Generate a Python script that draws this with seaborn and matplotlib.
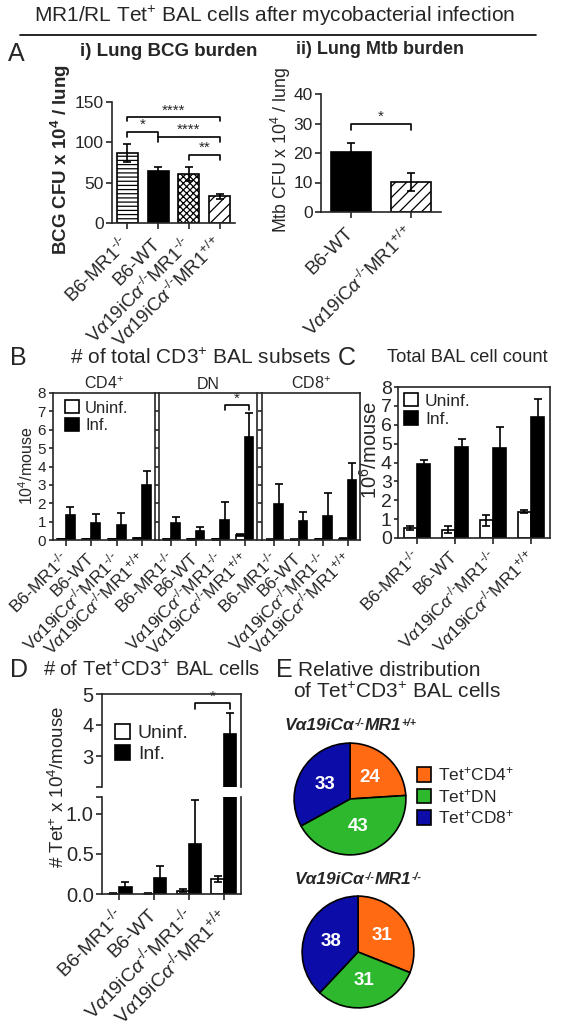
import matplotlib
matplotlib.use("Agg")
import matplotlib.pyplot as plt
import seaborn as sns
import pandas as pd
from matplotlib.patches import Patch
from matplotlib.lines import Line2D
from matplotlib.offsetbox import TextArea, HPacker, AnchoredOffsetbox

# ---- data -------------------------------------------------------------
groups = [r"B6-MR1$^{\text{-/-}}$", "B6-WT",
          r"V$\alpha$19iC$\alpha^{\text{-/-}}$MR1$^{\text{-/-}}$",
          r"V$\alpha$19iC$\alpha^{\text{-/-}}$MR1$^{\text{+/+}}$"]
conds = ["Uninf.", "Inf."]

# A i) lung BCG burden (x 10^4 CFU / lung)
bcg_mean = [87, 64, 61, 33]
bcg_sem = [11, 6, 9, 3.5]

# A ii) lung Mtb burden
mtb_groups = ["B6-WT", r"V$\alpha$19iC$\alpha^{\text{-/-}}$MR1$^{\text{+/+}}$"]
mtb_mean = [20.3, 10.2]
mtb_sem = [3.2, 3.1]

# B) total CD3+ BAL subsets (10^4 / mouse)
subsets = ["CD4$^{+}$", "DN", "CD8$^{+}$"]
cd4_uninf = [0.06, 0.04, 0.03, 0.10]
cd4_uninf_err = [0.01, 0.01, 0.01, 0.02]
cd4_inf = [1.35, 0.90, 0.80, 3.00]
cd4_inf_err = [0.45, 0.52, 0.68, 0.75]
dn_uninf = [0.03, 0.03, 0.03, 0.27]
dn_uninf_err = [0.01, 0.01, 0.01, 0.05]
dn_inf = [0.95, 0.50, 1.10, 5.60]
dn_inf_err = [0.30, 0.20, 0.95, 1.30]
cd8_uninf = [0.02, 0.02, 0.05, 0.08]
cd8_uninf_err = [0.01, 0.01, 0.02, 0.02]
cd8_inf = [1.95, 1.02, 1.33, 3.28]
cd8_inf_err = [1.10, 0.53, 1.25, 0.92]

# C) total BAL cell count (10^6 / mouse)
bal_uninf = [0.54, 0.45, 0.93, 1.40]
bal_uninf_err = [0.12, 0.18, 0.28, 0.10]
bal_inf = [3.90, 4.83, 4.77, 6.43]
bal_inf_err = [0.25, 0.40, 1.12, 0.95]

# D) Tet+CD3+ BAL cells (10^4 / mouse)
tet_uninf = [0.005, 0.005, 0.04, 0.19]
tet_uninf_err = [0.002, 0.002, 0.02, 0.04]
tet_inf = [0.09, 0.20, 0.62, 3.70]
tet_inf_err = [0.055, 0.15, 0.55, 0.70]

# E) relative distribution (%)
tet_subsets = ["Tet$^{+}$CD4$^{+}$", "Tet$^{+}$DN", "Tet$^{+}$CD8$^{+}$"]
pct_mr1_wt = [24, 43, 33]
pct_mr1_ko = [31, 31, 38]
pie_titles = [[("V\u03b119iC\u03b1", False), ("-/-", True), ("MR1", False), ("+/+", True)],
              [("V\u03b119iC\u03b1", False), ("-/-", True), ("MR1", False), ("-/-", True)]]

# ---- style ------------------------------------------------------------
sns.set_style("ticks")
plt.rcParams["font.family"] = ["Liberation Sans", "DejaVu Sans"]
plt.rcParams["mathtext.fontset"] = "custom"
plt.rcParams["mathtext.rm"] = "Liberation Sans"
plt.rcParams["mathtext.it"] = "Liberation Sans:italic"
plt.rcParams["mathtext.bf"] = "Liberation Sans:bold"
plt.rcParams["axes.linewidth"] = 1.2
plt.rcParams["hatch.linewidth"] = 0.9
plt.rcParams["xtick.major.width"] = 1.2
plt.rcParams["ytick.major.width"] = 1.2
plt.rcParams["xtick.major.size"] = 4
plt.rcParams["ytick.major.size"] = 4

cond_colors = {"Uninf.": "white", "Inf.": "black"}
bcg_hatch = ["----", "", "xxxxx", "///"]
pie_colors = ["#ff6a13", "#2db82d", "#0c0ca8"]

W, H = 564, 1030
fig = plt.figure(figsize=(W / 100, H / 100), dpi=100)


def box(x0, y0, x1, y1):
    # pixel box -> figure rect
    return [x0 / W, 1 - y1 / H, (x1 - x0) / W, (y1 - y0) / H]


def ftext(x, y, s, **kw):
    kw.setdefault("va", "center")
    fig.text(x / W, 1 - y / H, s, **kw)


def rotate_labels(ax, labels, fs=11, pad=8):
    ax.set_xticks(range(len(labels)))
    ax.set_xticklabels(labels, rotation=45, ha="right", va="center",
                       rotation_mode="anchor", fontsize=fs)
    ax.tick_params(axis="x", pad=pad)


def errbars(ax, container, errs, lw=1.2):
    for bar, e in zip(container, errs):
        ax.errorbar(bar.get_x() + bar.get_width() / 2, bar.get_height(), yerr=e,
                    color="black", capsize=3, elinewidth=lw, capthick=lw)


def bracket(ax, x1, x2, y, drop, text, fs=11):
    ax.plot([x1, x1, x2, x2], [y - drop, y, y, y - drop], color="black",
            lw=1.2, clip_on=False)
    ax.text((x1 + x2) / 2, y, text, ha="center", va="bottom", fontsize=fs)


def hue_bars(ax, uninf, inf, uninf_err, inf_err):
    df = pd.DataFrame({"group": groups * 2, "value": uninf + inf,
                       "cond": ["Uninf."] * 4 + ["Inf."] * 4})
    sns.barplot(data=df, x="group", y="value", hue="cond", hue_order=conds,
                palette=cond_colors, edgecolor="black", linewidth=1.2,
                width=0.7, errorbar=None, legend=False, ax=ax)
    for cont, errs in zip(ax.containers, [uninf_err, inf_err]):
        errbars(ax, cont, errs)
    ax.set_xlabel("")
    ax.set_ylabel("")


def cond_legend(ax, loc, fs=12):
    handles = [Patch(facecolor=cond_colors[c], edgecolor="black", lw=1.2) for c in conds]
    ax.legend(handles, conds, loc="upper left", bbox_to_anchor=loc, frameon=False,
              fontsize=fs, handlelength=0.8, handleheight=0.8, handletextpad=0.4,
              labelspacing=0.15, borderaxespad=0, borderpad=0)


def rich_title(x, y, parts, fs=12.5):
    # bold italic genotype with raised small superscripts
    areas = [TextArea(s, textprops=dict(fontsize=fs * 0.6 if sup else fs,
                                        fontweight="bold", fontstyle="italic"))
             for s, sup in parts]
    pack = HPacker(children=areas, align="top", pad=0, sep=0)
    anch = AnchoredOffsetbox(loc="center left", child=pack, frameon=False, pad=0,
                             borderpad=0, bbox_to_anchor=(x / W, 1 - y / H),
                             bbox_transform=fig.transFigure)
    fig.add_artist(anch)


# ---- header -----------------------------------------------------------
ftext(275, 16, "MR1/RL Tet$^{+}$ BAL cells after mycobacterial infection",
      ha="center", fontsize=15)
fig.add_artist(Line2D([20 / W, 536 / W], [1 - 35 / H] * 2, color="black", lw=1.2))

# ---- A i --------------------------------------------------------------
ftext(8, 54, "A", fontsize=18)
ftext(169, 52, "i) Lung BCG burden", ha="center", fontsize=13.5, fontweight="bold")
ax = fig.add_axes(box(112, 102, 235, 223))
sns.barplot(x=groups, y=bcg_mean, color="black", width=0.69, edgecolor="black",
            linewidth=1.2, ax=ax)
for bar, h in zip(ax.patches, bcg_hatch):
    bar.set_facecolor("white" if h else "black")
    bar.set_hatch(h)
errbars(ax, ax.containers[0], bcg_sem)
ax.set_ylim(0, 150)
ax.set_xlim(-0.5, 3.5)
ax.set_yticks([0, 50, 100, 150])
ax.tick_params(axis="y", labelsize=12.5, pad=2)
rotate_labels(ax, groups, fs=13.5, pad=9)
bracket(ax, 0, 3, 131, 5, "****")
bracket(ax, 0, 1, 113, 6, "*")
bracket(ax, 1, 3, 106.5, 6, "****")
bracket(ax, 2, 3, 84, 6, "**")
sns.despine(ax=ax)
ftext(61, 160, r"BCG CFU x 10$^{\mathbf{4}}$ / lung", ha="center", rotation=90,
      fontsize=13.5, fontweight="bold")

# ---- A ii -------------------------------------------------------------
ftext(380, 50, "ii) Lung Mtb burden", ha="center", fontsize=13, fontweight="bold")
ax = fig.add_axes(box(321, 94, 441, 212))
sns.barplot(x=mtb_groups, y=mtb_mean, color="black", width=0.68, edgecolor="black",
            linewidth=1.2, ax=ax)
ax.patches[1].set_facecolor("white")
ax.patches[1].set_hatch("///")
errbars(ax, ax.containers[0], mtb_sem)
ax.set_ylim(0, 40)
ax.set_xlim(-0.5, 1.5)
ax.set_yticks([0, 10, 20, 30, 40])
ax.tick_params(axis="y", labelsize=12.5, pad=2)
rotate_labels(ax, mtb_groups, fs=13.5, pad=9)
bracket(ax, 0, 1, 29.8, 2, "*")
sns.despine(ax=ax)
ftext(281, 150, "Mtb CFU x 10$^{4}$ / lung", ha="center", rotation=90, fontsize=12.8)

# ---- B ----------------------------------------------------------------
ftext(10, 358, "B", fontsize=18)
ftext(70, 358, "# of total CD3$^{+}$ BAL subsets", fontsize=15)
b_boxes = [(53, 393, 155, 540), (159, 393, 257, 540), (262, 393, 360, 540)]
b_data = [(cd4_uninf, cd4_inf, cd4_uninf_err, cd4_inf_err),
          (dn_uninf, dn_inf, dn_uninf_err, dn_inf_err),
          (cd8_uninf, cd8_inf, cd8_uninf_err, cd8_inf_err)]
for i, (bx, d, name) in enumerate(zip(b_boxes, b_data, subsets)):
    ax = fig.add_axes(box(*bx))
    hue_bars(ax, *d)
    ax.set_ylim(0, 8)
    ax.set_xlim(-0.5, 3.5)
    ax.set_yticks(range(9))
    ax.tick_params(axis="y", labelsize=11, length=3, pad=2)
    if i > 0:
        ax.set_yticklabels([])
    rotate_labels(ax, groups, fs=12.5, pad=7)
    ax.set_title(name, fontsize=11.5, pad=3)
    if i == 0:
        cond_legend(ax, (0.12, 0.95))
    if i == 1:
        bracket(ax, 2.175, 3.175, 7.33, 0.28, "*")
ftext(27, 466, "10$^{4}$/mouse", ha="center", rotation=90, fontsize=11.5)

# ---- C ----------------------------------------------------------------
ftext(338, 358, "C", fontsize=18)
ftext(387, 358, "Total BAL cell count", fontsize=13.2)
ax = fig.add_axes(box(398, 387, 550, 538))
hue_bars(ax, bal_uninf, bal_inf, bal_uninf_err, bal_inf_err)
ax.set_ylim(0, 8)
ax.set_xlim(-0.5, 3.5)
ax.set_yticks(range(9))
ax.tick_params(axis="y", labelsize=14, length=3, pad=1.5)
rotate_labels(ax, groups, fs=12.5, pad=7)
cond_legend(ax, (0.04, 0.96), fs=12.5)
ftext(370, 450, "10$^{6}$/mouse", ha="center", rotation=90, fontsize=14.5)

# ---- D (broken axis) --------------------------------------------------
ftext(10, 670, "D", fontsize=18)
ftext(43, 670, "# of Tet$^{+}$CD3$^{+}$ BAL cells", fontsize=14.5)
ax_top = fig.add_axes(box(102, 694, 241, 787))
ax_bot = fig.add_axes(box(102, 797, 241, 894))
for ax in (ax_top, ax_bot):
    hue_bars(ax, tet_uninf, tet_inf, tet_uninf_err, tet_inf_err)
    ax.set_xlim(-0.5, 3.5)
    ax.tick_params(axis="y", labelsize=14.5, pad=2)
ax_top.set_ylim(2, 5)
ax_top.set_yticks([2, 3, 4, 5], ["", "3", "4", "5"])
ax_top.spines["bottom"].set_visible(False)
ax_top.tick_params(axis="x", bottom=False, labelbottom=False)
ax_bot.set_ylim(0, 1.21)
ax_bot.set_yticks([0, 0.5, 1.0, 1.21], ["0.0", "0.5", "1.0", ""])
ax_bot.spines["top"].set_visible(False)
rotate_labels(ax_bot, groups, fs=14, pad=9)
bracket(ax_top, 2.175, 3.175, 4.7, 0.18, "*")
cond_legend(ax_top, (0.09, 0.68), fs=14)
ftext(58, 787, "# Tet$^{+}$ x 10$^{4}$/mouse", ha="center", rotation=90, fontsize=13.5)

# ---- E pies -----------------------------------------------------------
ftext(276, 670, "E", fontsize=18)
ftext(298, 670, "Relative distribution", fontsize=15)
ftext(293, 692, "of Tet$^{+}$CD3$^{+}$ BAL cells", fontsize=15)

pie_boxes = [(293, 742, 407, 856), (301, 895, 415, 1009)]
pie_title_pos = [(285, 726), (295, 880)]
for bx, pct, (tx, ty), parts in zip(pie_boxes, [pct_mr1_wt, pct_mr1_ko],
                                     pie_title_pos, pie_titles):
    ax = fig.add_axes(box(*bx))
    ax.pie(pct, labels=[str(p) for p in pct], colors=pie_colors, startangle=90,
           counterclock=False, labeldistance=0.52,
           wedgeprops=dict(edgecolor="black", linewidth=1.2),
           textprops=dict(color="white", fontsize=13.5, fontweight="bold",
                          ha="center", va="center"))
    ax.set_xlim(-1.02, 1.02)
    ax.set_ylim(-1.02, 1.02)
    rich_title(tx, ty, parts)

fig.legend([Patch(facecolor=c, edgecolor="black", lw=1.2) for c in pie_colors],
           tet_subsets, loc="center left", bbox_to_anchor=(417 / W, 1 - 796 / H),
           frameon=False, fontsize=12.5, handlelength=0.8, handleheight=0.9,
           handletextpad=0.4, labelspacing=0.2, borderpad=0, borderaxespad=0)

fig.savefig("out.png", dpi=100, facecolor="white")
